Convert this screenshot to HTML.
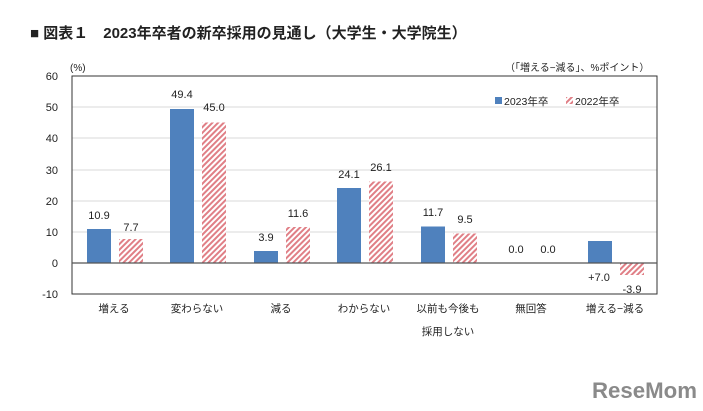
<!DOCTYPE html><html><head><meta charset="utf-8"><style>body{margin:0;background:#fff}svg{display:block}text{font-family:"Liberation Sans","Noto Sans CJK JP",sans-serif;fill:#222}</style></head><body>
<svg width="703" height="411" viewBox="0 0 703 411" xmlns="http://www.w3.org/2000/svg">
<defs><pattern id="h" width="4" height="4" patternUnits="userSpaceOnUse" patternTransform="rotate(45)"><rect width="4" height="4" fill="#fff"/><rect width="2" height="4" fill="#e07f86"/></pattern></defs>
<text x="30" y="38" font-size="15" font-weight="bold" fill="#333">■ 図表１　2023年卒者の新卒採用の見通し（大学生・大学院生）</text>
<text x="70" y="71" font-size="10">(%)</text>
<text x="505" y="71" font-size="10">（「増える−減る」、%ポイント）</text>
<g stroke="#d9d9d9" stroke-width="1"><line x1="72" y1="107" x2="657" y2="107"/><line x1="72" y1="138" x2="657" y2="138"/><line x1="72" y1="170" x2="657" y2="170"/><line x1="72" y1="201" x2="657" y2="201"/><line x1="72" y1="232" x2="657" y2="232"/></g>
<rect x="72" y="76" width="585" height="218" fill="none" stroke="#333" stroke-width="1"/>
<g font-size="11" text-anchor="end"><text x="58" y="80">60</text><text x="58" y="111">50</text><text x="58" y="142">40</text><text x="58" y="174">30</text><text x="58" y="205">20</text><text x="58" y="236">10</text><text x="58" y="267">0</text><text x="58" y="298">-10</text></g>
<g fill="#4f81bd">
<rect x="87" y="229" width="24" height="34"/><rect x="170" y="109" width="24" height="154"/><rect x="254" y="251" width="24" height="12"/><rect x="337" y="188" width="24" height="75"/><rect x="421" y="226.5" width="24" height="36.5"/><rect x="588" y="241" width="24" height="22"/></g>
<g fill="url(#h)">
<rect x="119" y="239" width="24" height="24"/><rect x="202" y="122.5" width="24" height="140.5"/><rect x="286" y="227" width="24" height="36"/><rect x="369" y="181.5" width="24" height="81.5"/><rect x="453" y="233.5" width="24" height="29.5"/><rect x="620" y="263" width="24" height="12"/></g>
<line x1="72" y1="263" x2="657" y2="263" stroke="#555" stroke-width="1.3"/>
<g font-size="11" text-anchor="middle">
<text x="99" y="219">10.9</text><text x="131" y="231">7.7</text>
<text x="182" y="98">49.4</text><text x="214" y="111">45.0</text>
<text x="266" y="241">3.9</text><text x="298" y="217">11.6</text>
<text x="349" y="178">24.1</text><text x="381" y="171">26.1</text>
<text x="433" y="216">11.7</text><text x="465" y="223">9.5</text>
<text x="516" y="253">0.0</text><text x="548" y="253">0.0</text>
<text x="599" y="281">+7.0</text><text x="632" y="293">-3.9</text>
</g>
<g font-size="10.5" text-anchor="middle">
<text x="114" y="312">増える</text><text x="197" y="312">変わらない</text><text x="281" y="312">減る</text><text x="364" y="312">わからない</text><text x="448" y="312">以前も今後も</text><text x="448" y="335">採用しない</text><text x="531" y="312">無回答</text><text x="615" y="312">増える−減る</text>
</g>
<rect x="495" y="97" width="7" height="7" fill="#4f81bd"/><text x="504" y="105" font-size="10.5">2023年卒</text>
<rect x="566" y="97" width="7" height="7" fill="url(#h)"/><text x="575" y="105" font-size="10.5">2022年卒</text>
<text x="592" y="398" font-size="22" font-weight="bold" fill="#8a8a8a" style="fill:#8a8a8a" textLength="105" lengthAdjust="spacingAndGlyphs">ReseMom</text>
</svg></body></html>
